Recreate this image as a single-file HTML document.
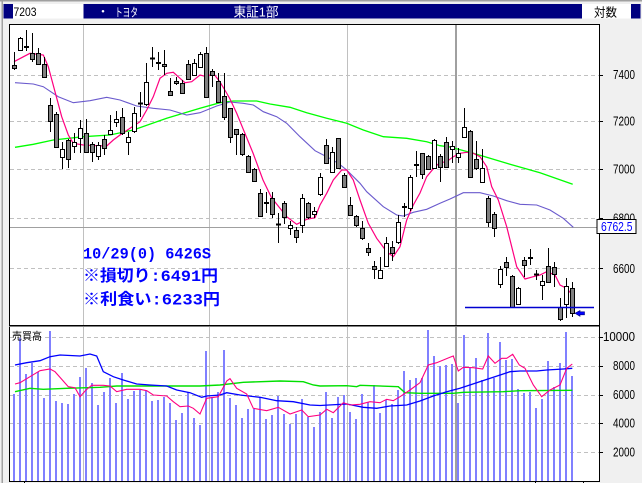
<!DOCTYPE html>
<html><head><meta charset="utf-8"><style>
html,body{margin:0;padding:0;background:#f0f0f0;}
svg{display:block;}
</style></head><body>
<svg width="642" height="483" viewBox="0 0 642 483" xmlns="http://www.w3.org/2000/svg">
<rect x="0" y="0" width="642" height="483" fill="#f0f0f0"/>
<rect x="0" y="0" width="642" height="1.5" fill="#a0a0a0"/>
<rect x="1.5" y="0" width="1.5" height="483" fill="#a0a0a0"/>
<!-- header bar -->
<rect x="3.5" y="4" width="637" height="14.5" fill="#000080"/>
<rect x="13" y="4" width="70.5" height="14.5" fill="#ffffff"/>
<rect x="582" y="4" width="49" height="14.5" fill="#ffffff"/>
<g font-family="'Liberation Sans','Noto Sans CJK JP',sans-serif">
<text x="13.5" y="16" font-size="12" textLength="23" lengthAdjust="spacingAndGlyphs" fill="#000">7203</text>
<text x="97" y="15.5" font-size="12" fill="#fff">・</text>
<text x="115" y="16.5" font-size="12" textLength="23" lengthAdjust="spacingAndGlyphs" fill="#fff">トヨタ</text>
<text x="233.5" y="16.5" font-size="13" textLength="45" lengthAdjust="spacingAndGlyphs" fill="#fff">東証1部</text>
<text x="594" y="16.5" font-size="12" textLength="23" lengthAdjust="spacingAndGlyphs" fill="#000">対数</text>
</g>
<!-- chart background -->
<rect x="9" y="24" width="590" height="457" fill="#ffffff"/>
<!-- dashed grids -->
<g stroke="#c0c0c0" stroke-width="1" stroke-dasharray="4 3" fill="none">
<path d="M10 75.5H599 M10 121.5H599 M10 169.5H599 M10 218.5H599 M10 268.5H599"/>
<path d="M10 337.5H599 M10 366.5H599 M10 395.5H599 M10 423.5H599 M10 452.5H599"/>
</g>
<!-- vertical grids -->
<g stroke="#c0c0c0" stroke-width="1">
<path d="M83.5 24V481 M209.5 24V481 M347.5 24V481"/>
</g>
<rect x="455" y="24" width="2" height="457" fill="#a0a0a0"/>
<!-- crosshair horizontal -->
<path d="M9 227.5H599" stroke="#a0a0a0" stroke-width="1"/>
<!-- volume bars -->
<path stroke="#8080ff" stroke-width="2" fill="none" d="M14 394V481M20 338V481M26 374V481M32 363V481M38 372V481M44 398V481M50 331V481M56 401V481M62 403V481M68 404V481M74 394V481M80 377V481M86 368V481M92 383V481M98 405V481M104 392V481M110 378V481M116 403V481M122 373V481M128 399V481M134 391V481M140 390V481M146 391V481M152 401V481M158 400V481M164 397V481M170 403V481M176 420V481M182 413V481M188 392V481M194 418V481M200 425V481M206 351V481M212 397V481M218 392V481M224 350V481M230 398V481M236 405V481M242 418V481M248 409V481M254 409V481M260 397V481M266 419V481M272 415V481M278 396V481M284 414V481M290 424V481M296 414V481M302 399V481M308 417V481M314 427V481M320 412V481M326 392V481M332 418V481M338 397V481M344 395V481M350 412V481M356 419V481M362 394V481M368 402V481M374 385V481M380 413V481M386 400V481M392 404V481M398 390V481M404 371V481M410 380V481M416 378V481M422 378V481M428 330V481M434 356V481M440 366V481M446 365V481M452 364V481M458 403V481M464 335V481M470 368V481M476 358V481M482 380V481M488 333V481M494 378V481M500 342V481M506 360V481M512 359V481M518 389V481M524 393V481M530 392V481M536 408V481M542 399V481M548 361V481M554 387V481M560 363V481M566 332V481M572 376V481"/>
<!-- volume MAs -->
<polyline fill="none" stroke="#00e000" stroke-width="1.4" points="15,391.7 30,388.3 43.3,389.3 66.7,388.3 100,387.3 116.7,386 200,386 220,385 243.3,382.3 280,381 303.3,381.7 313.3,385 320,386 346.7,385.7 356.7,386.7 360,385.3 398.3,386.7 405,392.7 420,393.3 453.3,393.3 463.3,392.3 503.3,391.7 520,390.7 572.3,390.3"/>
<polyline fill="none" stroke="#0000ff" stroke-width="1.3" points="15,365 26.7,362.7 40,360.7 50,356.7 60,355 80,356 90,354 96.7,356 103.3,371.7 113.3,376.7 123.3,380 136.7,384 150,385 166.7,386 176.7,390 190,392.7 201.7,397.3 206.7,396 220,395 226.7,392.7 240,395 260,397.3 276.7,400.7 293.3,401.7 310,405 320,405.5 346.7,404 363.3,407.3 376.7,408.3 390,406 406.7,405 420,401 433.3,396 446.7,391.7 460,388.3 476.7,382.7 493.3,377.3 510,371.7 520,371 536.7,371 546.7,370 563.3,369 572.3,368.3"/>
<polyline fill="none" stroke="#ff0080" stroke-width="1.1" points="15,384 20,382.7 30,376.7 40,370.7 50,369 55,371.7 61.7,379.3 68.3,386.7 75,387.7 80,396.7 86,390 91.7,385.3 103.3,385.3 110,386 116.7,391.7 126.7,389.3 140,389.3 146.7,390.7 153.3,395 166.7,396 173.3,401.7 180,406.7 188.3,406 193.3,408.3 200,414 206.7,398.3 218.3,396.7 226.7,381 230,378.7 236.7,388.3 246.7,394 253.3,408.3 266.7,410.7 278.3,407.3 290,414 301.7,410 308.3,416.7 320,415 326.7,409.3 333.3,412.7 343.3,402.7 350,405 360,404.3 370,401.7 380,402.7 386.7,399.3 393.3,400.7 400,396.7 410,390 420,382.7 428.3,365 436.7,362.7 450,357.3 453.3,356 458.3,371 463.3,367.3 473.3,367.7 482.7,369 488.3,356 495,363.3 501.7,358.3 506.7,358.3 512.7,354.3 519.3,365 525,368.3 533.3,385 541.7,396.7 550,390 560,385 566.7,368.3 572.3,364"/>
<!-- price MAs -->
<polyline fill="none" stroke="#00ff00" stroke-width="1.3" points="15,147.3 33.3,144.3 53.3,140 83.3,136.7 110,135 133.3,130 166.7,118.3 200,108.3 220,102.7 233.3,101 256.7,101 270,104 290,107.3 306.7,112.7 326.7,118.3 346.7,123.3 363.3,130 383.3,136.7 406.7,138.3 426.7,141.7 440,145.7 450,147 473.3,153.3 506.7,163.3 540,172.7 572.7,184.3"/>
<polyline fill="none" stroke="#6a5acd" stroke-width="1.1" points="15,82.7 33.3,84 43.3,86.7 58.3,96.7 73.3,102.7 90,100.7 106.7,97.3 120,100 136.7,106 153.3,108.3 170,110 186.7,115 200,112.7 216.7,106 230,102 243.3,103.3 253.3,105 263.3,111.7 276.7,116.7 286.7,123.3 300,136.7 315,150.7 326.7,156.7 338.3,163.3 346.7,170 360,183.3 366.7,191.7 383.3,206.7 396.7,215 403.3,216 413.3,212.3 426.7,209.3 440,203.3 450,199 463.3,192.7 480,192.7 493.3,196 506.7,200.7 520,204.3 536.7,205 550,210 563.3,218.3 573.3,227.3"/>
<polyline fill="none" stroke="#ff0080" stroke-width="1.2" points="14,61.7 30,53.3 43.3,55 48.3,66.7 55,91.7 61.7,116.7 68.3,135 73.3,143.3 83.3,145 96.7,145.7 106.7,146 113.3,140 120,135 130,128.3 140,121.7 146.7,110 153.3,96.7 160,78.3 166.7,73.3 173.3,72.3 180,78.3 185,82.7 191.7,81.7 200,75 206.7,76.7 213.3,73.3 220,82 226,92 230,99 236.7,113.3 253,153 263,180 271.7,198 275,202 286.7,216.7 296.7,224.3 306.7,219.3 315,217.7 320,205 326.7,193.3 333.3,180 341.7,170 346.7,170 353.3,180 360,200 368.3,223.3 376.7,238.3 386.7,251.7 393.3,256.7 400,246.7 406.7,220 413.3,205 420,193 426.7,176.7 435,166.7 440,162.7 446.7,161.7 453.3,156.7 460,153.3 466.7,152.3 473.3,153.3 480,156.7 486.7,166.7 491.7,186.7 498.3,200 506.7,226.7 511.7,246.7 516.7,266.7 525,279 533.3,276.7 540,275 546.7,271.7 555,275 560,285 566.7,288.3 572.3,295"/>
<!-- wicks -->
<path stroke="#000" stroke-width="1" fill="none" d="M14.5 52V70M20.5 37V51M26.5 30V51M32.5 33V62M38.5 48V65M44.5 57V77M50.5 98V132M56.5 112V147M62.5 142V169M68.5 139V168M74.5 133V153M80.5 120V153M86.5 119V153M92.5 142V162M98.5 142V160M104.5 135V155M110.5 115V135M116.5 111V127M122.5 108V135M128.5 132V155M134.5 107V133M140.5 92V117M146.5 63V106M152.5 47V67M158.5 52V70M164.5 50V75M170.5 78V95M176.5 77V85M182.5 80V93M188.5 60V79M194.5 59V76M200.5 52V67M206.5 47V97M212.5 69V87M218.5 73V103M224.5 73V120M230.5 108V143M236.5 129V155M242.5 133V156M248.5 155V173M254.5 168V182M260.5 189V217M266.5 192V213M272.5 192V218M278.5 213V243M284.5 201V224M290.5 221V235M296.5 227V243M302.5 194V233M308.5 202V219M314.5 207V218M320.5 173V196M326.5 139V163M332.5 147V173M338.5 138V169M344.5 173V187M350.5 197V216M356.5 215V227M362.5 221V240M368.5 243V256M374.5 261V279M380.5 257V279M386.5 237V267M392.5 241V261M398.5 215V244M404.5 203V217M410.5 175V211M416.5 151V177M422.5 153V179M428.5 155V169M434.5 139V169M440.5 154V182M446.5 137V168M452.5 141V163M458.5 148V163M464.5 108V138M470.5 130V177M476.5 141V170M482.5 149V183M488.5 196V227M494.5 212V237M500.5 266V288M506.5 257V276M512.5 275V307M518.5 287V305M524.5 257V277M530.5 249V265M536.5 270V280M542.5 275V300M548.5 248V283M554.5 262V287M560.5 298V321M566.5 278V318M572.5 282V317"/>
<!-- down bodies -->
<path fill="#808080" stroke="#000" stroke-width="1" d="M12.5 65.5h4v3h-4zM30.5 53.5h4v6h-4zM36.5 53.5h4v11h-4zM42.5 64.5h4v13h-4zM48.5 105.5h4v16h-4zM54.5 114.5h4v33h-4zM66.5 140.5h4v19h-4zM84.5 133.5h4v19h-4zM90.5 144.5h4v8h-4zM102.5 139.5h4v9h-4zM120.5 117.5h4v16h-4zM162.5 64.5h4v2h-4zM168.5 91.5h4v4h-4zM174.5 81.5h4v2h-4zM180.5 83.5h4v10h-4zM186.5 64.5h4v15h-4zM204.5 53.5h4v44h-4zM210.5 71.5h4v4h-4zM216.5 81.5h4v21h-4zM222.5 96.5h4v21h-4zM228.5 108.5h4v29h-4zM234.5 129.5h4v5h-4zM240.5 134.5h4v20h-4zM246.5 156.5h4v16h-4zM252.5 169.5h4v12h-4zM258.5 193.5h4v23h-4zM270.5 198.5h4v16h-4zM282.5 203.5h4v14h-4zM294.5 230.5h4v7h-4zM306.5 203.5h4v14h-4zM324.5 145.5h4v18h-4zM336.5 138.5h4v30h-4zM342.5 175.5h4v12h-4zM348.5 205.5h4v10h-4zM354.5 216.5h4v9h-4zM360.5 228.5h4v10h-4zM366.5 248.5h4v4h-4zM372.5 266.5h4v3h-4zM390.5 247.5h4v6h-4zM420.5 153.5h4v21h-4zM426.5 156.5h4v13h-4zM438.5 156.5h4v11h-4zM444.5 142.5h4v25h-4zM468.5 131.5h4v46h-4zM474.5 159.5h4v9h-4zM486.5 198.5h4v24h-4zM492.5 214.5h4v14h-4zM504.5 262.5h4v5h-4zM510.5 276.5h4v31h-4zM522.5 260.5h4v5h-4zM546.5 266.5h4v16h-4zM552.5 267.5h4v7h-4zM558.5 307.5h4v12h-4zM570.5 288.5h4v25h-4z"/>
<!-- up bodies -->
<path fill="#ffffff" stroke="#000" stroke-width="1" d="M18.5 38.5h4v12h-4zM60.5 149.5h4v8h-4zM72.5 142.5h4v4h-4zM78.5 128.5h4v10h-4zM96.5 145.5h4v11h-4zM108.5 130.5h4v4h-4zM114.5 119.5h4v3h-4zM126.5 137.5h4v5h-4zM132.5 113.5h4v18h-4zM144.5 82.5h4v22h-4zM192.5 63.5h4v12h-4zM198.5 54.5h4v13h-4zM288.5 225.5h4v3h-4zM300.5 198.5h4v27h-4zM312.5 211.5h4v3h-4zM318.5 177.5h4v17h-4zM330.5 152.5h4v20h-4zM378.5 270.5h4v8h-4zM384.5 243.5h4v23h-4zM396.5 222.5h4v20h-4zM408.5 177.5h4v31h-4zM432.5 140.5h4v28h-4zM450.5 146.5h4v3h-4zM456.5 153.5h4v4h-4zM462.5 127.5h4v10h-4zM480.5 168.5h4v14h-4zM498.5 269.5h4v15h-4zM516.5 288.5h4v16h-4zM540.5 281.5h4v4h-4zM564.5 286.5h4v18h-4z"/>
<!-- doji -->
<g fill="#000">
<rect x="24" y="46" width="5" height="2"/><rect x="138" y="102.5" width="5" height="2"/><rect x="150" y="57.5" width="5" height="2"/><rect x="156" y="62" width="5" height="2"/><rect x="264" y="202" width="5" height="2"/><rect x="276" y="223.5" width="5" height="2"/><rect x="402" y="206" width="5" height="2"/><rect x="414" y="164" width="5" height="2"/><rect x="528" y="257" width="5" height="2"/><rect x="534" y="273.5" width="5" height="2"/>
</g>
<!-- stop line and arrow -->
<path d="M465 307.5H594" stroke="#0000d0" stroke-width="1.4"/>
<path d="M575 313.3 L580 310.5 L580 311.8 L584.5 311.8 L584.5 314.8 L580 314.8 L580 316.3 Z" fill="#0000ff" stroke="#000080" stroke-width="0.6"/>
<!-- borders -->
<g stroke="#000" stroke-width="1" fill="none">
<path d="M9 24.5H599.5 M9.5 24V481.5 M599.5 24V481.5 M9 481.5H600"/>
<path d="M9 325.5H599"/>
</g>
<path d="M9 326.5H599" stroke="#808080" stroke-width="1"/>
<!-- ticks -->
<path stroke="#000" stroke-width="1" d="M599 75.5h4M599 121.5h4M599 169.5h4M599 218.5h4M599 268.5h4M599 337.5h4M599 366.5h4M599 395.5h4M599 423.5h4M599 452.5h4M24.5 481v3M535.5 481v3M583.5 481v3"/>
<!-- axis labels -->
<g font-family="'Liberation Sans',sans-serif" font-size="12.5" fill="#000">
<text x="613" y="79" textLength="22" lengthAdjust="spacingAndGlyphs">7400</text>
<text x="613" y="125.5" textLength="22" lengthAdjust="spacingAndGlyphs">7200</text>
<text x="613" y="173.5" textLength="22" lengthAdjust="spacingAndGlyphs">7000</text>
<text x="613" y="222.5" textLength="22" lengthAdjust="spacingAndGlyphs">6800</text>
<text x="613" y="273" textLength="22" lengthAdjust="spacingAndGlyphs">6600</text>
<text x="603" y="341" textLength="32" lengthAdjust="spacingAndGlyphs">10000</text>
<text x="613" y="370" textLength="22" lengthAdjust="spacingAndGlyphs">8000</text>
<text x="613" y="399" textLength="22" lengthAdjust="spacingAndGlyphs">6000</text>
<text x="613" y="427.5" textLength="22" lengthAdjust="spacingAndGlyphs">4000</text>
<text x="613" y="456.5" textLength="22" lengthAdjust="spacingAndGlyphs">2000</text>
</g>
<rect x="597" y="219.5" width="39" height="14" fill="#fff" stroke="#000" stroke-width="1"/>
<text x="601" y="231" font-family="'Liberation Sans',sans-serif" font-size="12.5" fill="#0000ff" textLength="31.5" lengthAdjust="spacingAndGlyphs">6762.5</text>
<!-- volume title -->
<text x="12" y="339.5" font-family="'Liberation Sans','Noto Sans CJK JP',sans-serif" font-size="10.5" fill="#000" textLength="30" lengthAdjust="spacingAndGlyphs">売買高</text>
<!-- annotation -->
<g font-family="'Liberation Mono','Noto Sans CJK JP',monospace" font-size="16" font-weight="bold" fill="#0000ff">
<text x="83" y="258.5" textLength="128" lengthAdjust="spacingAndGlyphs">10/29(0) 6426S</text>
<text x="83" y="281" textLength="135" lengthAdjust="spacingAndGlyphs">※損切り:6491円</text>
<text x="83" y="304.5" textLength="137" lengthAdjust="spacingAndGlyphs">※利食い:6233円</text>
</g>
</svg>
</body></html>
